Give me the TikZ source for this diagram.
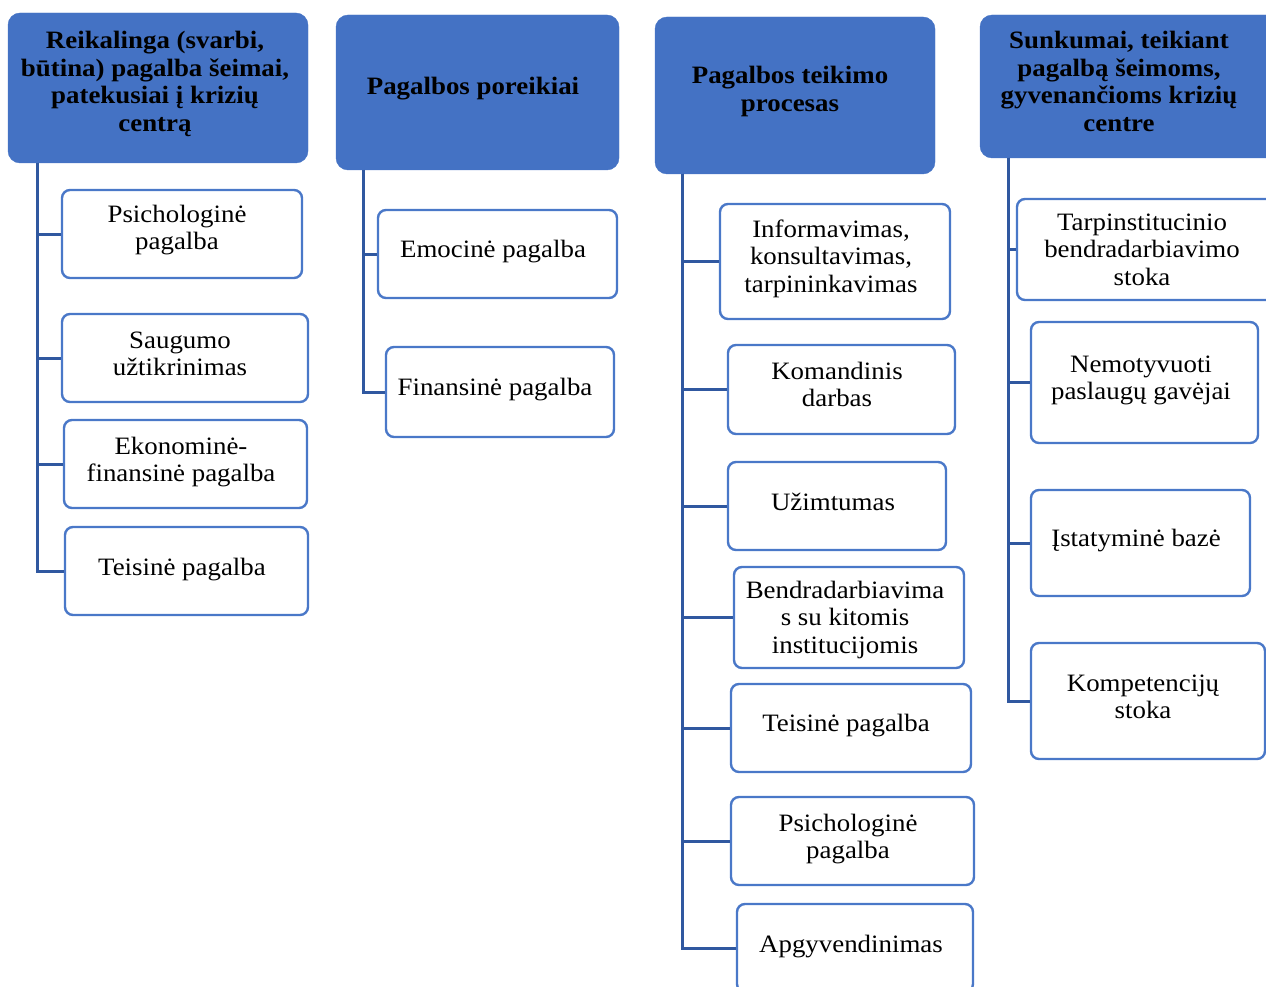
\documentclass[tikz,border=0pt]{standalone}
\usepackage{fontspec}
\setmainfont{Liberation Serif}[FakeStretch=1.075]
\usetikzlibrary{fit}
\definecolor{hdr}{HTML}{4472C4}
\definecolor{cbd}{HTML}{4A78C8}
\definecolor{con}{HTML}{3058A0}
\begin{document}
\begin{tikzpicture}[x=1pt,y=-1pt,
 hdrbox/.style={fill=hdr, draw=hdr, rounded corners=12pt, inner sep=0pt},
 kid/.style={draw=cbd, line width=2.4pt, fill=white, rounded corners=8pt, inner sep=0pt},
 conn/.style={draw=con, line width=3pt},
 lbl/.style={anchor=base, align=center, inner sep=0pt, font=\fontsize{25}{27.6}\selectfont},
 hlbl/.style={anchor=base, align=center, inner sep=0pt, font=\fontsize{25}{27.6}\selectfont\bfseries}]
\useasboundingbox (0,0) rectangle (1266,987);
\clip (0,0) rectangle (1266,987);
% headers
\node[hdrbox, fit={(8,13)(308,163)}] (h1) {};
\node[hdrbox, fit={(336,15)(619,170)}] (h2) {};
\node[hdrbox, fit={(655,17)(935,174)}] (h3) {};
\node[hdrbox, fit={(980,15)(1280,158)}] (h4) {};
% (multi-line labels are anchored at the baseline of their last line)
\node[hlbl] (h1t) at (155,131.3) {Reikalinga (svarbi,\\būtina) pagalba šeimai,\\patekusiai į krizių\\centrą};
\node[hlbl] (h2t) at (473,95) {Pagalbos poreikiai};
\node[hlbl] (h3t) at (790,111.6) {Pagalbos teikimo\\procesas};
\node[hlbl] (h4t) at (1119,131.3) {Sunkumai, teikiant\\pagalbą šeimoms,\\gyvenančioms krizių\\centre};
% trunk coordinates
\coordinate (t1) at (37,163);
\coordinate (t2) at (363,170);
\coordinate (t3) at (682,174);
\coordinate (t4) at (1008,158);
% column 1
\node[kid, fit={(62,190)(302,278)}] (a1) {};
\node[kid, fit={(62,314)(308,402)}] (a2) {};
\node[kid, fit={(64,420)(307,508)}] (a3) {};
\node[kid, fit={(65,527)(308,615)}] (a4) {};
\node[lbl] (a1t) at (177,249.6) {Psichologinė\\pagalba};
\node[lbl] (a2t) at (180,375.6) {Saugumo\\užtikrinimas};
\node[lbl] (a3t) at (181,481.6) {Ekonominė-\\finansinė pagalba};
\node[lbl] (a4t) at (182,575) {Teisinė pagalba};
% column 2
\node[kid, fit={(378,210)(617,298)}] (b1) {};
\node[kid, fit={(386,347)(614,437)}] (b2) {};
\node[lbl] (b1t) at (493,258) {Emocinė pagalba};
\node[lbl] (b2t) at (495,395) {Finansinė pagalba};
% column 3
\node[kid, fit={(720,204)(950,319)}] (c1) {};
\node[kid, fit={(728,345)(955,434)}] (c2) {};
\node[kid, fit={(728,462)(946,550)}] (c3) {};
\node[kid, fit={(734,567)(964,668)}] (c4) {};
\node[kid, fit={(731,684)(971,772)}] (c5) {};
\node[kid, fit={(731,797)(974,885)}] (c6) {};
\node[kid, fit={(737,904)(973,992)}] (c7) {};
\node[lbl] (c1t) at (831,292.2) {Informavimas,\\konsultavimas,\\tarpininkavimas};
\node[lbl] (c2t) at (837,406.6) {Komandinis\\darbas};
\node[lbl] (c3t) at (833,510) {Užimtumas};
\node[lbl] (c4t) at (845,653.2) {Bendradarbiavima\\s su kitomis\\institucijomis};
\node[lbl] (c5t) at (846,731) {Teisinė pagalba};
\node[lbl] (c6t) at (848,858.6) {Psichologinė\\pagalba};
\node[lbl] (c7t) at (851,952) {Apgyvendinimas};
% column 4
\node[kid, fit={(1017,199)(1280,300)}] (d1) {};
\node[kid, fit={(1031,322)(1258,443)}] (d2) {};
\node[kid, fit={(1031,490)(1250,596)}] (d3) {};
\node[kid, fit={(1031,643)(1265,759)}] (d4) {};
\node[lbl] (d1t) at (1142,285.2) {Tarpinstitucinio\\bendradarbiavimo\\stoka};
\node[lbl] (d2t) at (1141,399.6) {Nemotyvuoti\\paslaugų gavėjai};
\node[lbl] (d3t) at (1136,546) {Įstatyminė bazė};
\node[lbl] (d4t) at (1143,718.6) {Kompetencijų\\stoka};
% connectors
\foreach \c in {a1,a2,a3,a4} \draw[conn] (t1) |- (\c.west);
\foreach \c in {b1,b2} \draw[conn] (t2) |- (\c.west);
\foreach \c in {c1,c2,c3,c4,c5,c6,c7} \draw[conn] (t3) |- (\c.west);
\foreach \c in {d1,d2,d3,d4} \draw[conn] (t4) |- (\c.west);
\end{tikzpicture}
\end{document}
